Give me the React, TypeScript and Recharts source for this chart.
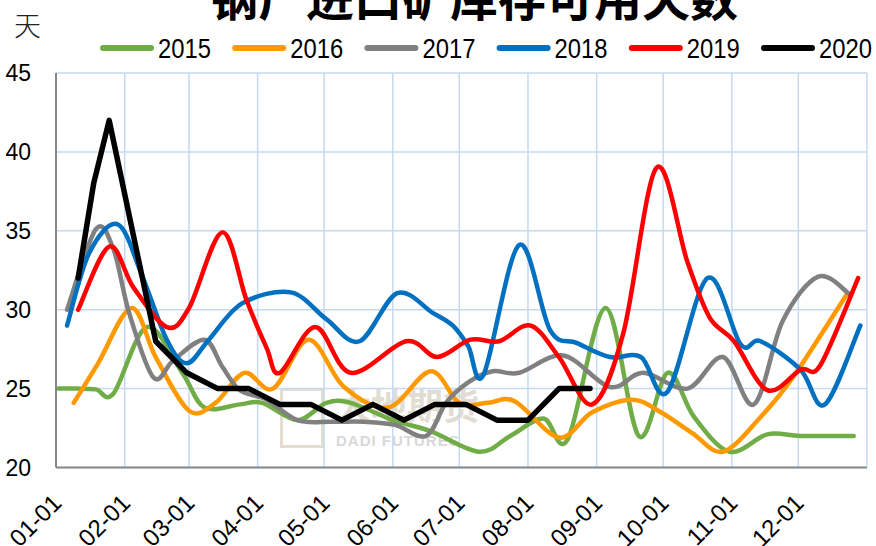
import { LineChart, Line, XAxis, YAxis, CartesianGrid } from "recharts";

// day-of-year ticks (leap-year calendar), last one is the right border
const monthTicks = [0, 31, 60, 91, 121, 152, 182, 213, 244, 274, 305, 335, 366];
const monthLabels = ["01-01", "02-01", "03-01", "04-01", "05-01", "06-01", "07-01", "08-01", "09-01", "10-01", "11-01", "12-01", ""];
const yTicks = [20, 25, 30, 35, 40, 45];

const days2015 = [1, 9, 18, 26, 41, 57, 67, 83, 93, 109, 122, 133, 152, 169, 191, 205, 220, 231, 248, 263, 276, 288, 304, 321, 336, 360];
const vals2015 = [25.0, 25.0, 24.95, 24.7, 28.9, 26.0, 23.8, 24.0, 24.1, 23.0, 24.1, 24.1, 23.0, 22.3, 21.0, 22.0, 23.1, 21.8, 30.1, 22.0, 26.0, 23.2, 21.0, 22.1, 22.0, 22.0];

const days2016 = [8, 19, 34, 45, 60, 72, 85, 98, 114, 130, 150, 169, 182, 195, 207, 227, 242, 260, 273, 287, 301, 318, 333, 357];
const vals2016 = [24.1, 26.6, 30.1, 27.0, 23.6, 24.1, 26.0, 25.0, 28.1, 25.1, 23.8, 26.1, 24.1, 24.1, 24.2, 21.9, 23.5, 24.3, 23.5, 22.2, 21.0, 23.2, 25.8, 31.0];

const days2017 = [5, 18, 26, 33, 44, 53, 67, 75, 83, 95, 109, 124, 139, 153, 167, 176, 186, 197, 209, 229, 250, 265, 285, 301, 315, 328, 344, 358];
const vals2017 = [30.0, 35.1, 33.8, 29.8, 25.7, 26.8, 28.1, 26.4, 24.9, 24.3, 23.0, 22.9, 22.9, 22.7, 22.0, 24.1, 25.4, 26.1, 26.0, 27.1, 25.1, 26.0, 25.0, 27.0, 24.0, 29.3, 32.1, 31.0];

const days2018 = [5, 15, 28, 39, 50, 59, 69, 84, 106, 122, 137, 154, 170, 179, 186, 193, 209, 223, 235, 250, 264, 276, 294, 309, 318, 336, 347, 363];
const vals2018 = [29.0, 33.6, 35.4, 32.1, 28.1, 26.6, 28.1, 30.4, 31.1, 29.4, 28.0, 31.05, 29.8, 29.0, 27.7, 25.9, 34.1, 28.7, 27.9, 27.0, 27.0, 24.8, 32.0, 27.8, 28.0, 26.2, 24.0, 29.0];

const days2019 = [10, 24, 35, 50, 60, 75, 86, 95, 101, 117, 133, 158, 172, 187, 200, 214, 227, 242, 256, 271, 285, 295, 306, 321, 336, 345, 362];
const vals2019 = [30.0, 34.0, 31.4, 28.9, 30.1, 34.9, 30.6, 27.6, 26.0, 28.9, 26.0, 28.0, 27.0, 28.1, 28.0, 29.0, 27.0, 24.0, 28.5, 39.0, 33.0, 29.5, 28.0, 24.9, 26.2, 26.5, 32.0];

const days2020 = [10, 17, 24, 45, 59, 73, 87, 101, 115, 129, 143, 157, 171, 185, 199, 213, 227, 241];
const vals2020 = [32, 38, 42, 28, 26, 25, 25, 24, 24, 23, 24, 23, 24, 24, 23, 23, 25, 25];

const toRows = (days: number[], vals: number[]) => days.map((d, i) => ({ day: d, v: vals[i] }));

const series = [
  { name: "2015", color: "#70AD47", width: 4.5, data: toRows(days2015, vals2015) },
  { name: "2016", color: "#FF9900", width: 4.5, data: toRows(days2016, vals2016) },
  { name: "2017", color: "#808080", width: 4.5, data: toRows(days2017, vals2017) },
  { name: "2018", color: "#0070C0", width: 4.5, data: toRows(days2018, vals2018) },
  { name: "2019", color: "#FF0000", width: 4.5, data: toRows(days2019, vals2019) },
  { name: "2020", color: "#000000", width: 5.5, data: toRows(days2020, vals2020) },
];

// Excel-like smoothed line (Catmull-Rom through every point)
const smoothCurve: any = (context: any) => {
  let pts: number[][] = [];
  return {
    areaStart() {},
    areaEnd() {},
    lineStart() {
      pts = [];
    },
    lineEnd() {
      const n = pts.length;
      if (!n) return;
      context.moveTo(pts[0][0], pts[0][1]);
      for (let i = 0; i < n - 1; i++) {
        const p0 = pts[Math.max(i - 1, 0)];
        const p1 = pts[i];
        const p2 = pts[i + 1];
        const p3 = pts[Math.min(i + 2, n - 1)];
        context.bezierCurveTo(
          p1[0] + (p2[0] - p0[0]) / 6,
          p1[1] + (p2[1] - p0[1]) / 6,
          p2[0] - (p3[0] - p1[0]) / 6,
          p2[1] - (p3[1] - p1[1]) / 6,
          p2[0],
          p2[1]
        );
      }
    },
    point(x: number, y: number) {
      pts.push([+x, +y]);
    },
  };
};

const font = "'Liberation Sans', Arial, sans-serif";

function MonthTick(props: any) {
  const { x, y, payload } = props;
  const label = monthLabels[monthTicks.indexOf(payload.value)];
  const px = x + 7;
  const py = y + 37;
  return (
    <text x={px} y={py} transform={`rotate(-45 ${px} ${py})`} textAnchor="end" fontSize={24} fontFamily={font} fill="#000">
      {label}
    </text>
  );
}

export default function App() {
  return (
    <div style={{ position: "absolute", left: 0, top: 0, width: 876, height: 546, background: "#fff", overflow: "hidden" }}>
      {/* watermark */}
      <div style={{ position: "absolute", left: 280, top: 388, width: 44, height: 60, border: "3px solid #d8d0bf", boxSizing: "border-box", opacity: 0.7 }} />
      <div style={{ position: "absolute", left: 335, top: 382, fontSize: 36, fontWeight: 700, color: "#e2ddd3", fontFamily: "'Noto Sans CJK SC'", lineHeight: "44px" }}>
        大地期货
      </div>
      <div style={{ position: "absolute", left: 336, top: 432, fontSize: 15, fontWeight: 700, color: "#d8d8d8", fontFamily: font, letterSpacing: 1, lineHeight: "18px" }}>
        DADI FUTURES
      </div>

      <div style={{ position: "relative" }}>
        <LineChart width={876} height={546} margin={{ top: 73, right: 9, bottom: 0, left: 0 }}>
          <CartesianGrid stroke="#C5D9F0" strokeWidth={1.5} />
          <XAxis
            type="number"
            dataKey="day"
            domain={[0, 366]}
            ticks={monthTicks}
            interval={0}
            height={78.5}
            tickLine={false}
            tickSize={0}
            tickMargin={0}
            axisLine={{ stroke: "#878787", strokeWidth: 2 }}
            tick={<MonthTick />}
            allowDataOverflow
          />
          <YAxis
            type="number"
            domain={[20, 45]}
            ticks={yTicks}
            interval={0}
            width={56}
            tickLine={false}
            tickSize={0}
            tickMargin={25}
            axisLine={{ stroke: "#878787", strokeWidth: 2 }}
            tick={{ fontSize: 23, fill: "#000", fontFamily: font }}
          />
          {series.map((s) => (
            <Line
              key={s.name}
              data={s.data}
              dataKey="v"
              name={s.name}
              type={s.name === "2020" ? "linear" : smoothCurve}
              stroke={s.color}
              strokeWidth={s.width}
              strokeLinejoin="round"
              strokeLinecap="round"
              dot={false}
              activeDot={false}
              isAnimationActive={false}
            />
          ))}
        </LineChart>
      </div>

      {/* title, cut off at the top as in the source picture */}
      <svg style={{ position: "absolute", left: 0, top: 0 }} width={876} height={30}>
        <text x={474} y={16} textAnchor="middle" fontSize={48} fontWeight={700} fontFamily="'Noto Sans CJK SC'" fill="#000">
          钢厂进口矿库存可用天数
        </text>
      </svg>
      <div style={{ position: "absolute", left: 14, top: 8, fontSize: 27, lineHeight: "34px", fontFamily: "'Noto Sans CJK SC'", fontWeight: 300, color: "#222" }}>
        天
      </div>

      {/* legend */}
      <svg style={{ position: "absolute", left: 0, top: 33 }} width={876} height={30}>
        {series.map((s, i) => {
          const x0 = 100 + i * 132.2;
          return (
            <g key={s.name}>
              <line x1={x0 + 3} x2={x0 + 51} y1={15} y2={15} stroke={s.color} strokeWidth={6} strokeLinecap="round" />
              <text x={x0 + 58} y={25} fontSize={27} textLength={53} lengthAdjust="spacingAndGlyphs" fontFamily={font} fill="#000">
                {s.name}
              </text>
            </g>
          );
        })}
      </svg>
    </div>
  );
}
